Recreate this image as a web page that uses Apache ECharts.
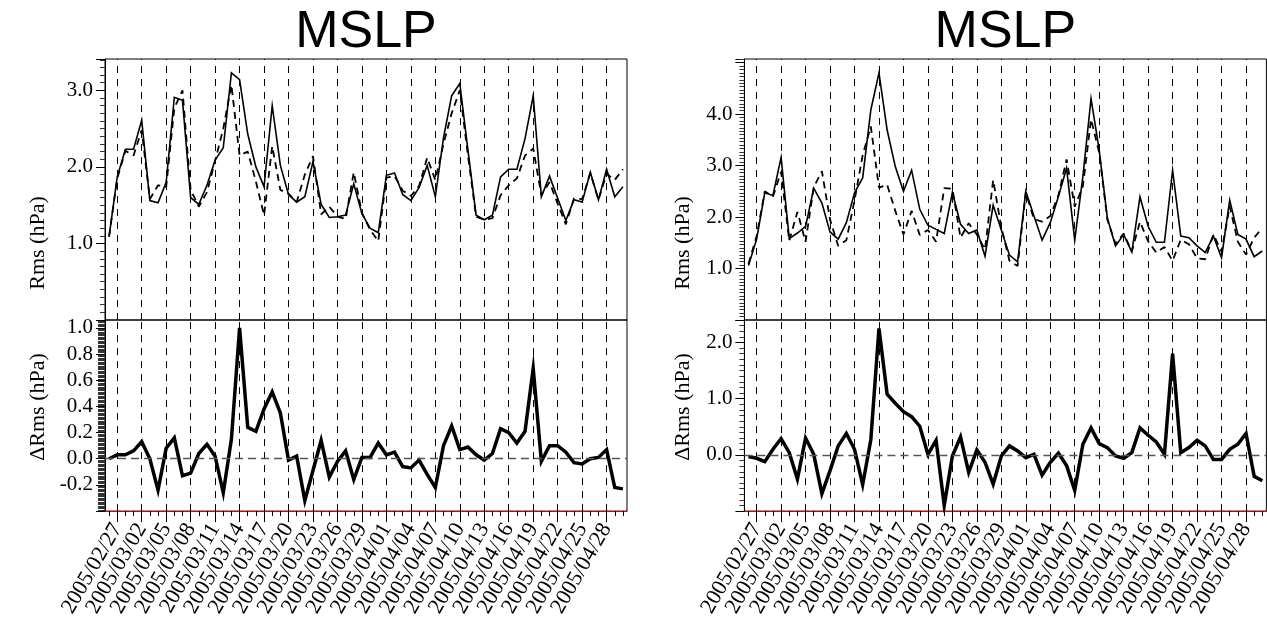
<!DOCTYPE html>
<html><head><meta charset="utf-8">
<script src="https://cdn.jsdelivr.net/npm/echarts@6/dist/echarts.min.js"></script>
<style>html,body{margin:0;padding:0;background:#fff}#c{width:1267px;height:620px}</style>
</head><body><div id="c"></div>
<script>
const dates = [
 '2005/02/26','2005/02/27','2005/02/28',
 '2005/03/01','2005/03/02','2005/03/03','2005/03/04','2005/03/05','2005/03/06','2005/03/07','2005/03/08','2005/03/09','2005/03/10',
 '2005/03/11','2005/03/12','2005/03/13','2005/03/14','2005/03/15','2005/03/16','2005/03/17','2005/03/18','2005/03/19','2005/03/20',
 '2005/03/21','2005/03/22','2005/03/23','2005/03/24','2005/03/25','2005/03/26','2005/03/27','2005/03/28','2005/03/29','2005/03/30','2005/03/31',
 '2005/04/01','2005/04/02','2005/04/03','2005/04/04','2005/04/05','2005/04/06','2005/04/07','2005/04/08','2005/04/09','2005/04/10',
 '2005/04/11','2005/04/12','2005/04/13','2005/04/14','2005/04/15','2005/04/16','2005/04/17','2005/04/18','2005/04/19','2005/04/20',
 '2005/04/21','2005/04/22','2005/04/23','2005/04/24','2005/04/25','2005/04/26','2005/04/27','2005/04/28','2005/04/29','2005/04/30'
];
const labeledDates = ['2005/02/27','2005/03/02','2005/03/05','2005/03/08','2005/03/11','2005/03/14','2005/03/17','2005/03/20','2005/03/23',
 '2005/03/26','2005/03/29','2005/04/01','2005/04/04','2005/04/07','2005/04/10','2005/04/13','2005/04/16','2005/04/19','2005/04/22','2005/04/25','2005/04/28'];

const leftRms = [1.09,1.87,2.23,2.23,2.61,1.56,1.53,1.80,2.91,2.87,
 1.60,1.51,1.76,2.09,2.25,3.23,3.14,2.43,2.00,1.74,
 2.80,2.02,1.64,1.54,1.61,2.07,1.51,1.34,1.35,1.37,
 1.78,1.39,1.20,1.14,1.89,1.92,1.64,1.56,1.73,2.02,
 1.61,2.38,2.93,3.09,2.22,1.37,1.31,1.37,1.87,1.97,
 1.97,2.37,2.93,1.61,1.88,1.59,1.30,1.57,1.54,1.93,
 1.57,1.97,1.61,1.74];
const leftRmsDashed = [1.09,1.85,2.21,2.15,2.48,1.58,1.76,1.74,2.77,3.00,
 1.70,1.48,1.67,2.08,2.50,3.07,2.15,2.20,1.81,1.37,
 2.27,1.70,1.65,1.54,1.90,2.14,1.38,1.48,1.35,1.32,
 1.93,1.40,1.18,1.03,1.86,1.88,1.69,1.62,1.75,2.12,
 1.83,2.30,2.70,3.00,2.15,1.35,1.31,1.33,1.63,1.76,
 1.85,2.15,2.24,1.63,1.80,1.52,1.25,1.59,1.58,1.92,
 1.57,1.91,1.83,1.97];
const leftDelta = [0.00,0.03,0.03,0.06,0.13,0.00,-0.24,0.08,0.16,-0.13,
 -0.11,0.04,0.11,0.02,-0.26,0.15,1.00,0.24,0.21,0.38,
 0.51,0.35,-0.01,0.02,-0.32,-0.09,0.14,-0.14,-0.02,0.06,
 -0.16,0.01,0.01,0.12,0.03,0.05,-0.06,-0.07,-0.01,-0.12,
 -0.22,0.10,0.25,0.07,0.09,0.03,-0.01,0.04,0.23,0.20,
 0.12,0.21,0.69,-0.02,0.10,0.10,0.05,-0.03,-0.04,0.00,
 0.01,0.07,-0.22,-0.23];

const rightRms = [1.06,1.57,2.47,2.42,3.16,1.58,1.69,1.82,2.56,2.27,
 1.71,1.57,1.89,2.47,2.76,4.08,4.80,3.69,2.98,2.50,
 2.91,2.15,1.84,1.76,1.68,2.48,1.86,1.68,1.75,1.24,
 2.23,1.75,1.26,1.13,2.50,2.02,1.55,1.89,2.40,2.95,
 1.55,2.79,4.30,3.30,1.98,1.44,1.66,1.32,2.39,1.82,
 1.51,1.51,2.91,1.63,1.60,1.44,1.31,1.63,1.21,2.33,
 1.66,1.57,1.23,1.34];
const rightRmsDashed = [1.09,1.63,2.50,2.40,2.88,1.54,2.10,1.52,2.58,2.89,
 1.95,1.44,1.55,2.32,3.20,3.76,2.57,2.63,2.12,1.66,
 2.12,1.65,1.75,1.52,2.56,2.55,1.60,1.88,1.66,1.37,
 2.72,1.80,1.15,1.05,2.48,1.96,1.91,2.02,2.42,3.12,
 2.20,2.60,3.90,3.25,1.95,1.48,1.68,1.33,1.91,1.53,
 1.31,1.42,1.15,1.56,1.47,1.20,1.18,1.66,1.33,2.21,
 1.52,1.27,1.60,1.79];
const rightDelta = [-0.03,-0.06,-0.12,0.10,0.29,0.04,-0.43,0.30,0.01,-0.69,
 -0.28,0.16,0.38,0.10,-0.53,0.27,2.25,1.08,0.92,0.77,
 0.68,0.51,0.01,0.26,-0.90,-0.02,0.32,-0.31,0.09,-0.13,
 -0.52,-0.02,0.16,0.07,-0.05,0.01,-0.36,-0.13,0.03,-0.19,
 -0.63,0.19,0.48,0.20,0.13,-0.02,-0.06,0.04,0.48,0.35,
 0.23,0.01,1.80,0.04,0.13,0.26,0.16,-0.08,-0.08,0.10,
 0.19,0.38,-0.38,-0.46];

const titles = ['MSLP','MSLP'];
const yNameTop = 'Rms (hPa)';
const yNameBottom = '\u0394Rms (hPa)';

const SERIF = '"Liberation Serif", "Times New Roman", serif';
const SANS = '"Liberation Sans", Arial, sans-serif';
const labeledSet = new Set(labeledDates);
const isLabIdx = (i) => labeledSet.has(dates[i]);
// split labels into two alternating groups so no two labels on one axis are adjacent
const isLabGroup = (g) => (i) => { const k = labeledDates.indexOf(dates[i]); return k >= 0 && k % 2 === g; };

const L = {x: 105, w: 522}, R = {x: 744.4, w: 522};
const topY = 59, midY = 320, botY = 515;

const grids = [
  {left: L.x, top: topY, width: L.w, height: midY - topY},
  {left: L.x, top: midY, width: L.w, height: botY - midY},
  {left: R.x, top: topY, width: R.w, height: midY - topY},
  {left: R.x, top: midY, width: R.w, height: botY - midY}
].map(g => Object.assign({show: true, borderColor: '#000', borderWidth: 1, backgroundColor: 'transparent', containLabel: false}, g));

function xHidden(gi) {
  return {type: 'category', gridIndex: gi, data: dates, boundaryGap: true, position: 'bottom',
    axisLine: {show: false, onZero: false}, axisTick: {show: false}, axisLabel: {show: false}, splitLine: {show: false}};
}
function xMinor(gi) {
  return {type: 'category', gridIndex: gi, data: dates, boundaryGap: true, position: 'bottom', offset: 0,
    axisLine: {show: true, onZero: false, lineStyle: {color: '#e00000', width: 1}},
    axisTick: {show: true, alignWithLabel: true, interval: 0, length: 5, lineStyle: {color: '#000', width: 1}},
    axisLabel: {show: false}, splitLine: {show: false}};
}
function xLab(gi, g, withTicks) {
  const f = isLabGroup(g);
  return {type: 'category', gridIndex: gi, data: dates, boundaryGap: true, position: 'bottom', offset: 0,
    axisLine: {show: false, onZero: false},
    axisTick: {show: withTicks, alignWithLabel: true, interval: (i) => isLabIdx(i), length: 11, lineStyle: {color: '#000', width: 1}},
    axisLabel: {show: true, interval: f, rotate: 60, margin: 14,
      showMinLabel: true, showMaxLabel: true,
      fontFamily: SERIF, fontSize: 22, color: '#000'},
    splitLine: {show: false}};
}
function fmt(step, lo, hi) {
  return (v) => {
    if (Math.abs(v / step - Math.round(v / step)) > 1e-6) return '';
    if (v < lo - 1e-9 || v > hi + 1e-9) return '';
    if (Math.abs(v) < 1e-9) v = 0;
    return v.toFixed(1);
  };
}
function yAx(gi, min, max, step, minorN, lo, hi, minorLen) {
  return {type: 'value', gridIndex: gi, min: min, max: max, interval: step,
    axisLine: {show: true, onZero: false, lineStyle: {color: '#000', width: 1}},
    axisTick: {show: true, length: 9, lineStyle: {color: '#000', width: 1}},
    minorTick: {show: true, splitNumber: minorN, length: minorLen, lineStyle: {color: '#333', width: 1}},
    axisLabel: {show: true, formatter: fmt(step, lo, hi), fontFamily: SERIF, fontSize: 21, color: '#000', margin: 12,
      showMinLabel: true, showMaxLabel: true},
    splitLine: {show: false}, minorSplitLine: {show: false}};
}

const vLines = labeledDates.map(d => ({xAxis: d}));
const vStyle = {type: [7, 6], color: '#000', width: 1};
function hostSeries(xi, yi, data, withZero) {
  const md = vLines.map(v => Object.assign({}, v, {lineStyle: vStyle}));
  if (withZero) md.push({yAxis: 0, lineStyle: {type: [8, 5], color: '#555', width: 1.3}});
  return {type: 'line', xAxisIndex: xi, yAxisIndex: yi, data: data, showSymbol: false, silent: true, z: 1,
    lineStyle: {opacity: 0}, animation: false,
    markLine: {silent: true, symbol: ['none', 'none'], label: {show: false}, animation: false, lineStyle: vStyle, data: md}};
}
function solid(xi, yi, data, w) {
  return {type: 'line', xAxisIndex: xi, yAxisIndex: yi, data: data, showSymbol: false, z: 4, animation: false,
    lineStyle: {color: '#000', width: w, join: 'miter'}};
}
function dashed(xi, yi, data) {
  return {type: 'line', xAxisIndex: xi, yAxisIndex: yi, data: data, showSymbol: false, z: 3, animation: false,
    lineStyle: {color: '#000', width: 1.8, type: [7, 5]}};
}

const graphic = [
  {type: 'text', x: L.x + L.w / 2, y: 33, style: {text: titles[0], font: '52px ' + SANS, fill: '#000', textAlign: 'center', textVerticalAlign: 'middle'}},
  {type: 'text', x: R.x + R.w / 2, y: 33, style: {text: titles[1], font: '52px ' + SANS, fill: '#000', textAlign: 'center', textVerticalAlign: 'middle'}},
  {type: 'text', x: 38, y: 243, rotation: Math.PI / 2, style: {text: yNameTop, font: '22px ' + SERIF, fill: '#000', textAlign: 'center', textVerticalAlign: 'middle'}},
  {type: 'text', x: 38, y: 407, rotation: Math.PI / 2, style: {text: yNameBottom, font: '22px ' + SERIF, fill: '#000', textAlign: 'center', textVerticalAlign: 'middle'}},
  {type: 'text', x: 683, y: 243, rotation: Math.PI / 2, style: {text: yNameTop, font: '22px ' + SERIF, fill: '#000', textAlign: 'center', textVerticalAlign: 'middle'}},
  {type: 'text', x: 683, y: 407, rotation: Math.PI / 2, style: {text: yNameBottom, font: '22px ' + SERIF, fill: '#000', textAlign: 'center', textVerticalAlign: 'middle'}}
];

const chart = echarts.init(document.getElementById('c'), null, {renderer: 'canvas'});
chart.setOption({
  backgroundColor: '#fff',
  animation: false,
  grid: grids,
  // 0: top-left, 1-3: bottom-left, 4: top-right, 5-7: bottom-right
  xAxis: [xHidden(0), xMinor(1), xLab(1, 0, true), xLab(1, 1, false),
          xHidden(2), xMinor(3), xLab(3, 0, true), xLab(3, 1, false)],
  yAxis: [
    yAx(0, 0, 3.41, 1, 10, 0.5, 3.05, 5),
    yAx(1, -0.4, 1.06, 0.2, 20, -0.3, 1.05, 7),
    yAx(2, 0, 5.07, 1, 15, 0.5, 4.5, 5),
    yAx(3, -1, 2.40, 1, 10, -0.5, 2.05, 5)
  ],
  series: [
    hostSeries(0, 0, leftRms, false),
    dashed(0, 0, leftRmsDashed),
    solid(0, 0, leftRms, 1.6),
    hostSeries(1, 1, leftDelta, true),
    solid(1, 1, leftDelta, 3.5),
    hostSeries(4, 2, rightRms, false),
    dashed(4, 2, rightRmsDashed),
    solid(4, 2, rightRms, 1.6),
    hostSeries(5, 3, rightDelta, true),
    solid(5, 3, rightDelta, 3.5)
  ],
  graphic: graphic
});
</script></body></html>
